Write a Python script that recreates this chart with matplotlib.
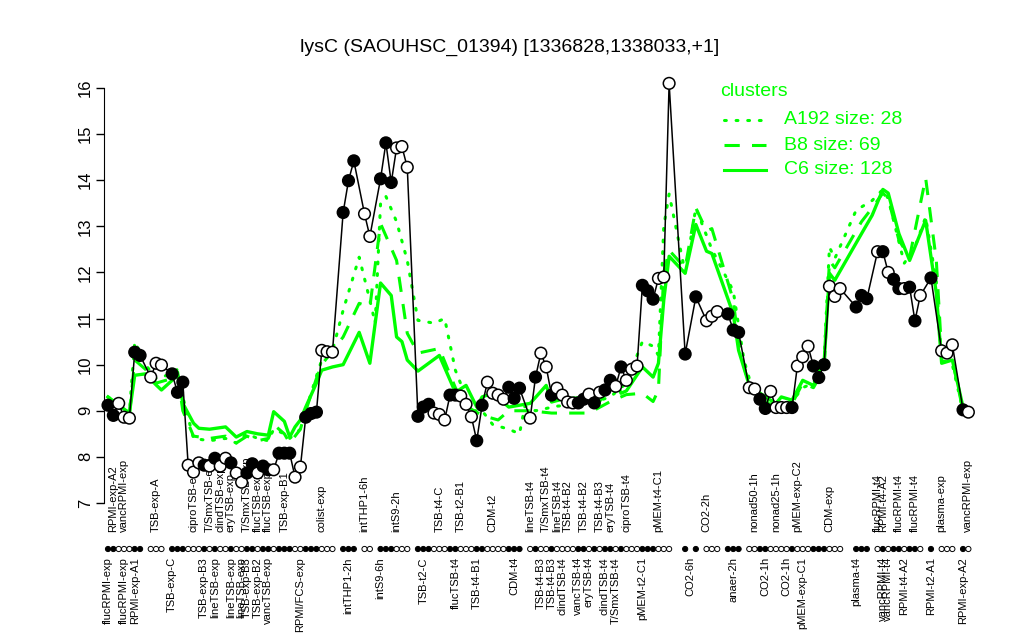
import matplotlib
matplotlib.use("Agg")
import matplotlib.pyplot as plt
import matplotlib.transforms as mtransforms
from matplotlib.lines import Line2D

plt.rcParams['font.family'] = ['Liberation Sans', 'DejaVu Sans']

title = "lysC (SAOUHSC_01394) [1336828,1338033,+1]"

# expression per condition (index along x), 1 = black dot, 0 = open dot
point_idx = [0, 1, 2, 3, 4, 5, 6, 8, 9, 10, 12, 13, 14, 15, 16, 17, 18, 19, 20, 21,
             22, 23, 24, 25, 26, 27, 28, 29, 30, 31, 32, 33, 34, 35, 36, 37, 38, 39,
             40, 41, 42, 44, 45, 46, 48, 49, 51, 52, 53, 54, 55, 56, 58, 59, 60, 61,
             62, 63, 64, 65, 66, 67, 68, 69, 70, 71, 72, 73, 74, 75, 76, 77, 79, 80,
             81, 82, 83, 84, 85, 86, 87, 88, 89, 90, 91, 92, 93, 94, 95, 96, 97, 98,
             99, 100, 101, 102, 103, 104, 105, 108, 110, 112, 113, 114, 116, 117, 118,
             120, 121, 122, 123, 124, 125, 126, 127, 128, 129, 130, 131, 132, 133, 134,
             135, 136, 137, 140, 141, 142, 144, 145, 146, 147, 148, 149, 150, 151, 152,
             154, 156, 157, 158, 160, 161]
point_val = [9.12, 8.90, 9.16, 8.86, 8.84, 10.27, 10.20, 9.73, 10.03, 9.99, 9.80, 9.40,
             9.62, 7.82, 7.67, 7.87, 7.82, 7.80, 7.97, 7.80, 7.97, 7.87, 7.65, 7.45,
             7.65, 7.85, 7.65, 7.80, 7.72, 7.72, 8.08, 8.08, 8.08, 7.56, 7.78, 8.86,
             8.94, 8.97, 10.31, 10.28, 10.27, 13.30, 13.99, 14.42, 13.27, 12.78, 14.03,
             14.81, 13.95, 14.70, 14.73, 14.28, 8.88, 9.08, 9.14, 8.95, 8.92, 8.80,
             9.34, 9.34, 9.32, 9.14, 8.87, 8.35, 9.12, 9.62, 9.38, 9.34, 9.25, 9.51,
             9.27, 9.49, 8.84, 9.73, 10.25, 9.95, 9.34, 9.49, 9.34, 9.19, 9.17, 9.17,
             9.25, 9.36, 9.17, 9.40, 9.45, 9.66, 9.53, 9.95, 9.66, 9.90, 9.97, 11.72,
             11.60, 11.42, 11.87, 11.90, 16.10, 10.23, 11.47, 10.95, 11.05, 11.15,
             11.10, 10.75, 10.70, 9.50, 9.47, 9.25, 9.05, 9.42, 9.07, 9.07, 9.07, 9.07,
             9.97, 10.17, 10.40, 9.97, 9.72, 10.00, 11.70, 11.48, 11.65, 11.25, 11.50,
             11.43, 12.45, 12.45, 12.00, 11.85, 11.65, 11.65, 11.68, 10.95, 11.50,
             11.88, 10.30, 10.25, 10.43, 9.02, 8.97]
point_filled = [1, 1, 0, 0, 0, 1, 1, 0, 0, 0, 1, 1, 1, 0, 0, 0, 1, 0, 1, 0, 0, 1, 0, 0,
                1, 1, 0, 1, 1, 0, 1, 1, 1, 0, 0, 1, 1, 1, 0, 0, 0, 1, 1, 1, 0, 0, 1, 1,
                1, 0, 0, 0, 1, 1, 1, 0, 0, 0, 1, 1, 0, 0, 0, 1, 1, 0, 0, 0, 0, 1, 1, 1,
                0, 1, 0, 0, 1, 0, 0, 0, 0, 1, 1, 0, 1, 0, 1, 1, 0, 1, 0, 0, 0, 1, 1, 1,
                0, 0, 0, 1, 1, 0, 0, 0, 1, 1, 1, 0, 0, 1, 1, 0, 0, 0, 0, 1, 0, 0, 0, 1,
                1, 1, 0, 0, 0, 1, 1, 1, 0, 1, 0, 1, 1, 0, 1, 1, 0, 1, 0, 0, 0, 1, 0]

# cluster profiles
c6_idx = [0, 4, 5, 7, 9, 10, 12, 13, 14, 16, 17, 19, 22, 24, 26, 28, 30, 31, 33, 34,
          35, 36, 37, 39, 40, 42, 44, 47, 49, 51, 53, 54, 55, 56, 58, 62, 65, 67, 69,
          70, 72, 75, 79, 82, 83, 85, 90, 92, 95, 96, 97, 100, 102, 103, 104, 105,
          108, 110, 112, 113, 117, 118, 120, 123, 125, 126, 128, 130, 132, 134, 135,
          136, 141, 143, 145, 146, 148, 149, 150, 153, 155, 156, 158, 160]
c6_val = [9.3, 8.95, 9.77, 9.8, 9.56, 9.45, 9.66, 9.84, 9.16, 8.73, 8.62, 8.6, 8.65,
          8.43, 8.55, 8.5, 8.47, 8.98, 8.77, 8.43, 8.65, 8.8, 9.08, 9.6, 9.88, 9.95,
          10.0, 10.7, 10.03, 11.77, 11.5, 10.6, 10.5, 10.1, 9.86, 10.2, 9.4, 9.55,
          9.08, 9.3, 9.38, 9.08, 9.16, 9.55, 9.19, 9.25, 9.3, 9.21, 9.66, 9.38, 9.43,
          9.95, 9.73, 10.03, 11.4, 12.35, 11.98, 13.04, 12.46, 12.41, 11.1, 10.31,
          9.55, 9.3, 9.16, 9.3, 9.23, 9.66, 9.55, 10.03, 11.98, 11.83, 12.84, 13.24,
          13.8, 13.72, 12.84, 12.55, 12.26, 13.13, 11.55, 10.03, 10.1, 9.08]

b8_idx = [0, 4, 5, 7, 9, 12, 13, 14, 16, 19, 22, 24, 26, 28, 30, 31, 33, 34, 36, 37,
          39, 40, 42, 44, 47, 49, 51, 54, 56, 58, 62, 65, 67, 70, 73, 75, 79, 83, 90,
          94, 97, 100, 102, 103, 104, 105, 108, 110, 112, 113, 117, 118, 120, 123,
          125, 128, 130, 132, 134, 135, 136, 141, 143, 145, 146, 148, 150, 153, 155,
          156, 158, 160]
b8_val = [9.25, 8.9, 10.1, 9.9, 9.6, 9.7, 9.8, 9.0, 8.45, 8.4, 8.45, 8.3, 8.45, 8.35,
          8.4, 8.7, 8.5, 8.3, 8.6, 9.0, 9.7, 10.0, 10.3, 10.6, 11.33, 11.25, 13.06,
          12.26, 10.68, 10.25, 10.35, 9.5, 9.1, 8.9, 8.8, 9.0, 9.0, 8.95, 8.95, 9.2,
          9.35, 9.38, 9.2, 9.45, 12.0, 12.48, 12.1, 13.4, 12.9, 12.95, 11.4, 10.46,
          9.5, 9.2, 9.1, 9.15, 9.6, 9.5, 9.9, 12.26, 12.1, 13.1, 13.4, 13.72, 13.6,
          12.7, 12.33, 14.05, 12.26, 10.25, 10.1, 9.0]

a192_idx = [0, 4, 5, 7, 9, 12, 13, 14, 16, 19, 22, 24, 26, 28, 30, 31, 33, 34, 36, 37,
            39, 40, 42, 44, 47, 49, 50, 51, 52, 54, 56, 58, 61, 63, 65, 68, 70, 72, 75,
            77, 78, 80, 84, 90, 94, 97, 100, 102, 103, 104, 105, 108, 110, 112, 113,
            117, 119, 121, 125, 128, 130, 132, 134, 135, 136, 140, 143, 145, 146, 149,
            151, 153, 155, 156, 158, 160]
a192_val = [9.3, 8.95, 10.5, 10.0, 9.7, 9.8, 9.9, 9.3, 8.4, 8.35, 8.4, 8.3, 8.5, 8.4,
            8.35, 8.6, 8.5, 8.4, 8.6, 9.0, 9.75, 10.1, 10.3, 11.18, 12.33, 11.4, 10.9,
            13.5, 13.65, 13.1, 12.26, 10.96, 10.9, 11.0, 9.88, 9.0, 9.0, 8.7, 8.6, 8.5,
            9.1, 9.0, 9.1, 9.15, 9.3, 9.6, 10.5, 10.4, 10.2, 13.0, 13.7, 12.0, 13.4,
            12.8, 12.5, 11.6, 10.1, 9.3, 9.1, 9.2, 9.5, 9.6, 10.1, 12.55, 12.3, 13.35,
            13.56, 13.8, 13.6, 12.2, 12.55, 13.2, 11.8, 10.1, 10.0, 9.0]

top_labels = ["RPMI-exp-A2", "vancRPMI-exp", "TSB-exp-A", "ciproTSB-exp", "T/SmxTSB-exp",
              "clindTSB-exp", "eryTSB-exp", "T/SmxTSB-exp", "flucTSB-exp", "flucTSB-exp",
              "TSB-exp-B1", "colist-exp", "intTHP1-6h", "intS9-2h", "TSB-t4-C",
              "TSB-t2-B1", "CDM-t2", "lineTSB-t4", "T/SmxTSB-t4", "lineTSB-t4",
              "TSB-t4-B2", "TSB-t4-B2", "TSB-t4-B3", "eryTSB-t4", "ciproTSB-t4",
              "pMEM-t4-C1", "CO2-2h", "nonad50-1h", "nonad25-1h", "pMEM-exp-C2",
              "CDM-exp", "flucRPMI-t4", "RPMI-t4-A2", "flucRPMI-t4", "flucRPMI-t4",
              "plasma-exp", "vancRPMI-exp"]
top_pos = [1, 3, 9, 16, 19, 21, 23, 26, 28, 30, 33, 40, 48, 54, 62, 66, 72, 79, 82, 84,
           86, 89, 92, 94, 97, 103, 112, 121, 125, 129, 135, 144, 145, 148, 151, 156, 161]

bottom_labels = ["flucRPMI-exp", "flucRPMI-exp", "RPMI-exp-A1", "TSB-exp-C", "TSB-exp-B3",
                 "lineTSB-exp", "lineTSB-exp", "lineTSB-exp", "TSB-exp-B3", "TSB-exp-B2",
                 "vancTSB-exp", "RPMI/FCS-exp", "intTHP1-2h", "intS9-6h", "TSB-t2-C",
                 "flucTSB-t4", "TSB-t4-B1", "CDM-t4", "TSB-t4-B3", "TSB-t4-B3",
                 "clindTSB-t4", "vancTSB-t4", "eryTSB-t4", "clindTSB-t4", "T/SmxTSB-t4",
                 "pMEM-t2-C1", "CO2-6h", "anaer-2h", "CO2-1h", "CO2-1h", "pMEM-exp-C1",
                 "plasma-t4", "vancRPMI-t4", "vancRPMI-t4", "RPMI-t4-A2", "RPMI-t2-A1",
                 "RPMI-exp-A2"]
bottom_pos = [0, 3, 5, 12, 18, 20, 23, 25, 26, 28, 30, 36, 45, 51, 59, 65, 69, 76, 81, 83,
              85, 88, 90, 93, 95, 100, 109, 117, 123, 127, 130, 140, 145, 146, 149, 154, 160]

legend_names = ["A192 size: 28", "B8 size: 69", "C6 size: 128"]

green = "#00FF00"
W, H = 1024, 640

fig = plt.figure(figsize=(W / 100, H / 100), dpi=100)
ax = fig.add_axes([104 / W, 1 - 520 / H, (978 - 104) / W, 440 / H])
ax.set_xlim(-0.75, 162.8)
ax.set_ylim(6.631, 16.173)

ax.plot(a192_idx, a192_val, color=green, lw=2.2, linestyle=(0, (0.6, 3.2)), dash_capstyle="round")
ax.plot(b8_idx, b8_val, color=green, lw=2.2, linestyle=(0, (5, 4)))
ax.plot(c6_idx, c6_val, color=green, lw=2.4, linestyle="-")

ax.plot(point_idx, point_val, color="black", lw=1.1, zorder=3, clip_on=False)
face = ["black" if f else "white" for f in point_filled]
ax.scatter(point_idx, point_val, s=70, facecolors=face, edgecolors="black",
           linewidths=1.1, zorder=4, clip_on=False)

# condition strip under the plot
strip = mtransforms.blended_transform_factory(ax.transData, fig.transFigure)
ax.scatter(point_idx, [1 - 549 / H] * len(point_idx), s=14, facecolors=face,
           edgecolors="black", linewidths=0.7, transform=strip, clip_on=False, zorder=4)

for name, p in zip(top_labels, top_pos):
    ax.text(p, 1 - 532 / H, name, rotation=90, ha="center", va="bottom",
            fontsize=8, transform=strip, clip_on=False)
for name, p in zip(bottom_labels, bottom_pos):
    ax.text(p, 1 - 557 / H, name, rotation=90, ha="center", va="top",
            fontsize=8, transform=strip, clip_on=False)

# axes styling like base R
for s in ["top", "right", "bottom"]:
    ax.spines[s].set_visible(False)
ax.spines["left"].set_bounds(7, 16)
ax.set_xticks([])
ax.set_yticks(range(7, 17))
ax.tick_params(axis="y", length=6, width=1, labelsize=12, pad=2)
for t in ax.get_yticklabels():
    t.set_rotation(90)
    t.set_va("center")

fig.text(0.498, 1 - 47 / H, title, ha="center", va="center", fontsize=14)

# legend
fig.text(720 / W, 1 - 92 / H, "clusters", color=green, fontsize=14, va="center", ha="left")
styles = [dict(linestyle=(0, (0.6, 3.2)), dash_capstyle="round"),
          dict(linestyle=(0, (5, 4))),
          dict(linestyle="-")]
for k, (name, st) in enumerate(zip(legend_names, styles)):
    yy = 1 - (120 + 25 * k) / H
    fig.add_artist(Line2D([724 / W, 766 / W], [yy, yy], color=green, lw=2.2, **st))
    fig.text(784 / W, yy, name, color=green, fontsize=14, va="center", ha="left")

fig.savefig("out.png", dpi=100)
